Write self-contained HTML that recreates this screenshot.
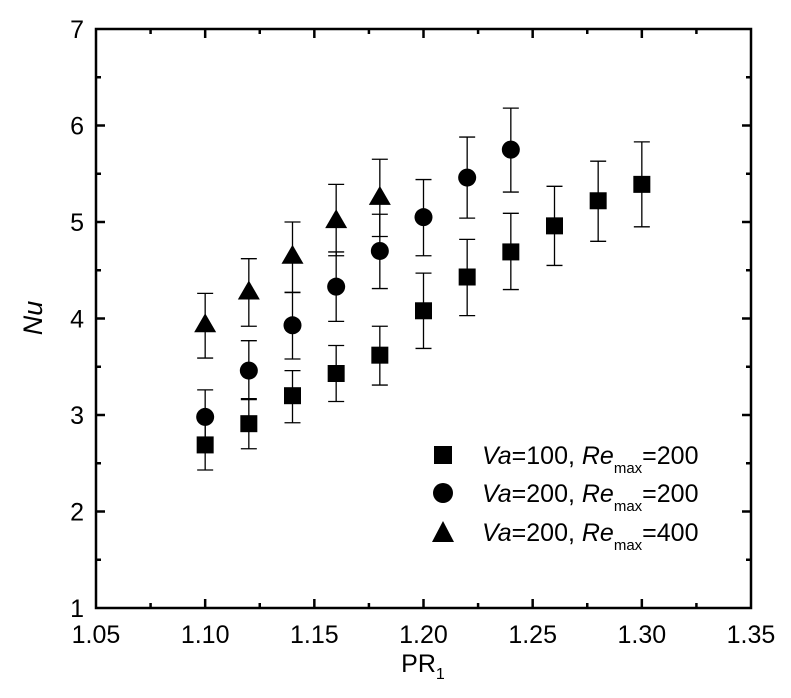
<!DOCTYPE html>
<html><head><meta charset="utf-8">
<style>
body{margin:0;background:#fff;}
svg{display:block;font-family:"Liberation Sans",Arial,sans-serif;}
</style></head>
<body>
<svg id="chart" width="791" height="698" viewBox="0 0 791 698">
<g id="plot"></g>
<text x="423" y="672" font-size="25" text-anchor="middle">PR<tspan font-size="16" dy="7">1</tspan></text>
<text transform="translate(42,318) rotate(-90)" font-size="27" font-style="italic" text-anchor="middle">Nu</text>
<g font-size="25">
 <g>
  <rect x="434" y="446" width="18" height="18" fill="#000"/>
  <text x="482" y="464"><tspan font-style="italic">Va</tspan>=100, <tspan font-style="italic">Re</tspan><tspan font-size="15" dy="9">max</tspan><tspan dy="-9">=200</tspan></text>
 </g>
 <g>
  <circle cx="443" cy="493" r="10" fill="#000"/>
  <text x="482" y="502"><tspan font-style="italic">Va</tspan>=200, <tspan font-style="italic">Re</tspan><tspan font-size="15" dy="9">max</tspan><tspan dy="-9">=200</tspan></text>
 </g>
 <g>
  <polygon points="443,521 432,542 454,542" fill="#000"/>
  <text x="482" y="541"><tspan font-style="italic">Va</tspan>=200, <tspan font-style="italic">Re</tspan><tspan font-size="15" dy="9">max</tspan><tspan dy="-9">=400</tspan></text>
 </g>
</g>
</svg>
<script>
const xTicks=[1.05,1.10,1.15,1.20,1.25,1.30,1.35];
const xTickLabels=["1.05","1.10","1.15","1.20","1.25","1.30","1.35"];
const yTicks=[1,2,3,4,5,6,7];
const yTickLabels=["1","2","3","4","5","6","7"];
const sqX=[1.10,1.12,1.14,1.16,1.18,1.20,1.22,1.24,1.26,1.28,1.30];
const sqY=[2.69,2.91,3.20,3.43,3.62,4.08,4.43,4.69,4.96,5.22,5.39];
const sqLo=[2.43,2.65,2.92,3.14,3.31,3.69,4.03,4.30,4.55,4.80,4.95];
const sqHi=[2.97,3.17,3.46,3.72,3.92,4.47,4.82,5.09,5.37,5.63,5.83];
const ciX=[1.10,1.12,1.14,1.16,1.18,1.20,1.22,1.24];
const ciY=[2.98,3.46,3.93,4.33,4.70,5.05,5.46,5.75];
const ciLo=[2.70,3.16,3.58,3.97,4.31,4.65,5.04,5.31];
const ciHi=[3.26,3.77,4.27,4.69,5.08,5.44,5.88,6.18];
const trX=[1.10,1.12,1.14,1.16,1.18];
const trY=[3.94,4.28,4.65,5.02,5.26];
const trLo=[3.59,3.92,4.27,4.65,4.85];
const trHi=[4.26,4.62,5.00,5.39,5.65];

const X0=96,X1=751,Y0=608,Y1=29;
const xs=v=>X0+(v-1.05)/0.30*(X1-X0);
const ys=v=>Y0-(v-1)/6*(Y0-Y1);
const NS="http://www.w3.org/2000/svg";
const g=document.getElementById('plot');
function mk(t,a,p){const e=document.createElementNS(NS,t);for(const k in a)e.setAttribute(k,a[k]);(p||g).appendChild(e);return e;}

const fr=mk('rect',{x:X0,y:Y1,width:X1-X0,height:Y0-Y1,fill:'none',stroke:'#000','stroke-width':2.5});


for(let i=0;i<xTicks.length;i++){
 const x=xs(xTicks[i]);
 if(i>0&&i<xTicks.length-1){
  mk('line',{x1:x,x2:x,y1:Y0,y2:Y0-9,stroke:'#000','stroke-width':2.5});
  mk('line',{x1:x,x2:x,y1:Y1,y2:Y1+9,stroke:'#000','stroke-width':2.5});
 }
 if(i<xTicks.length-1){
  const xm=xs(xTicks[i]+0.025);
  mk('line',{x1:xm,x2:xm,y1:Y0,y2:Y0-5,stroke:'#000','stroke-width':2.5});
  mk('line',{x1:xm,x2:xm,y1:Y1,y2:Y1+5,stroke:'#000','stroke-width':2.5});
 }
 const t=mk('text',{x:x,y:Y0+35,'font-size':25,'text-anchor':'middle'});
 t.textContent=xTickLabels[i];
 
 
}
for(let i=0;i<yTicks.length;i++){
 const y=ys(yTicks[i]);
 if(i>0&&i<yTicks.length-1){
  mk('line',{x1:X0,x2:X0+9,y1:y,y2:y,stroke:'#000','stroke-width':2.5});
  mk('line',{x1:X1,x2:X1-9,y1:y,y2:y,stroke:'#000','stroke-width':2.5});
 }
 if(i<yTicks.length-1){
  const ym=ys(yTicks[i]+0.5);
  mk('line',{x1:X0,x2:X0+5,y1:ym,y2:ym,stroke:'#000','stroke-width':2.5});
  mk('line',{x1:X1,x2:X1-5,y1:ym,y2:ym,stroke:'#000','stroke-width':2.5});
 }
 const t=mk('text',{x:X0-12,y:y+9,'font-size':25,'text-anchor':'end'});
 t.textContent=yTickLabels[i];
 
 
}
function series(X,Y,Lo,Hi,shape,name){
 const sg=mk('g',{});
 
 
 for(let i=0;i<X.length;i++){
  const x=xs(X[i]),y=ys(Y[i]),lo=ys(Lo[i]),hi=ys(Hi[i]);
  const eb=mk('path',{d:`M${x},${lo}V${hi}M${x-8},${lo}H${x+8}M${x-8},${hi}H${x+8}`,stroke:'#000','stroke-width':1.3,fill:'none'},sg);
  
  
  let m;
  if(shape==='sq')m=mk('rect',{x:x-8.5,y:y-8.5,width:17,height:17,fill:'#000'},sg);
  else if(shape==='ci')m=mk('circle',{cx:x,cy:y,r:9,fill:'#000'},sg);
  else m=mk('polygon',{points:`${x},${y-11} ${x-11},${y+8} ${x+11},${y+8}`,fill:'#000'},sg);
  
  
 }
}
series(sqX,sqY,sqLo,sqHi,'sq','series-va100-re200');
series(ciX,ciY,ciLo,ciHi,'ci','series-va200-re200');
series(trX,trY,trLo,trHi,'tr','series-va200-re400');
</script>
</body></html>
